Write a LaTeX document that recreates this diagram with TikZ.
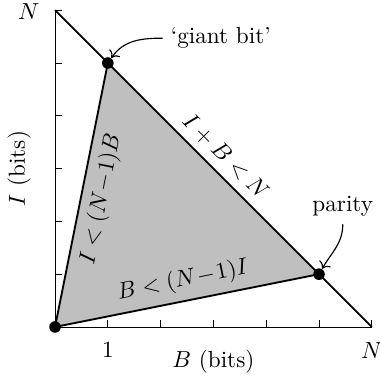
\documentclass[tikz,border=0pt]{standalone}
\usetikzlibrary{arrows.meta}
\begin{document}
\begin{tikzpicture}[x=0.8cm,y=0.8cm,
  edge/.style={line width=0.8pt},
  dotnode/.style={circle,fill=black,inner sep=0pt,minimum size=5pt},
  callout/.style={->,line width=0.5pt},
  region/.style={fill=black!25}]
\useasboundingbox (-1.042,-1.023) rectangle (6.155,6.193);
\coordinate (O) at (0,0);
\coordinate (Yt) at (0,6);
\coordinate (Xr) at (6,0);
\coordinate (G) at (1,5);
\coordinate (P) at (5,1);
\fill[region] (O) -- (G) -- (P) -- cycle;
\draw (Yt) -- (O) -- (Xr);
\foreach \i in {1,...,6} {
  \draw (\i,0) -- ++(0,0.125);
  \draw (0,\i) -- ++(0.125,0);
}
\draw[edge] (Yt) -- (Xr);
\path (Yt) -- node[sloped,above] {$I+B<N$} (Xr);
\draw[edge] (O) -- node[sloped,below] {$I<(N\!-\!1)B$} (G);
\draw[edge] (O) -- node[sloped,above] {$B<(N\!-\!1)I$} (P);
\node[dotnode] (dO) at (O) {};
\node[dotnode] (dG) at (G) {};
\node[dotnode] (dP) at (P) {};
\node (ntop) at (-0.5,5.98) {$N$};
\node (nright) at (6.0,-0.44) {$N$};
\node (one) at (1,-0.44) {$1$};
\node (xl) at (3,-0.66) {$B$ (bits)};
\node[rotate=90] (yl) at (-0.68,3) {$I$ (bits)};
\node (gb) at (3.14,5.47) {`giant bit'};
\node (par) at (5.45,2.29) {parity};
\draw[callout] (gb.west) to[out=180,in=55] (dG);
\draw[callout] (par.south) to[out=-90,in=60] (dP);
\end{tikzpicture}
\end{document}
